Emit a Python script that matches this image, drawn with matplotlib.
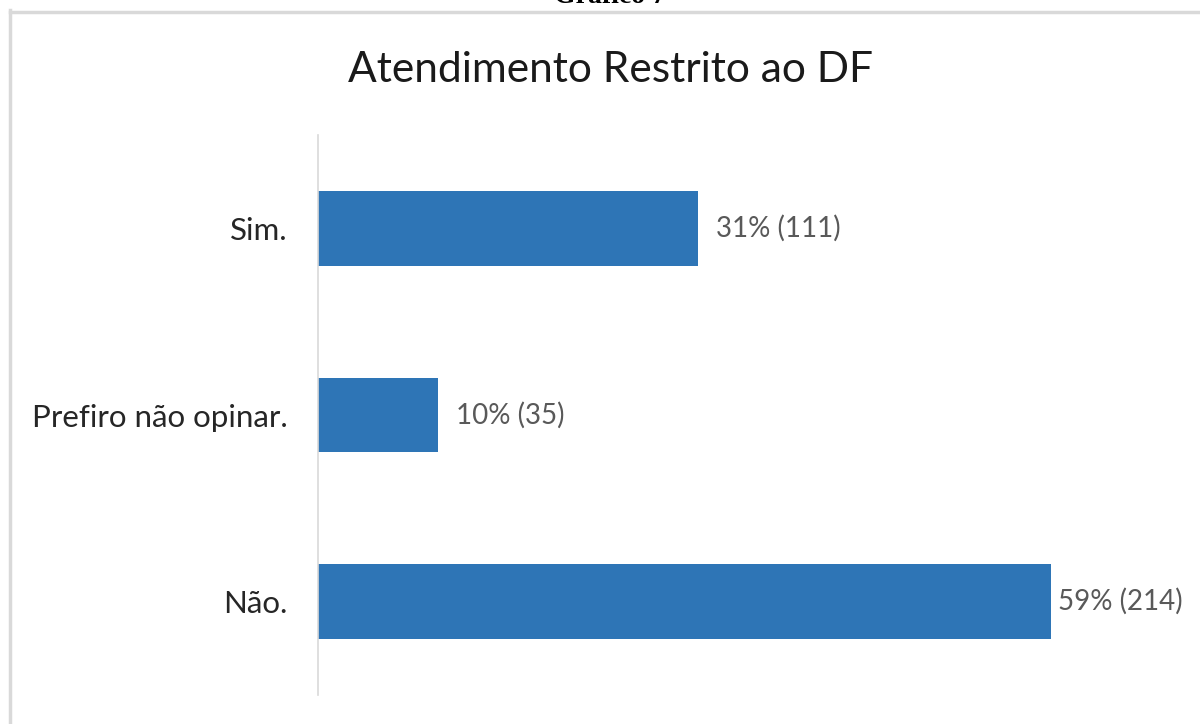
import matplotlib.pyplot as plt
from matplotlib.lines import Line2D

categorias = ['Sim.', 'Prefiro não opinar.', 'Não.']
contagens = [111, 35, 214]
percentuais = [31, 10, 59]

plt.rcParams['font.family'] = ['Lato', 'DejaVu Sans']

fig = plt.figure(figsize=(12, 7.24), dpi=100)
W, H = 1200, 724

# moldura cinza do grafico (so topo e lado esquerdo aparecem)
fig.add_artist(Line2D([9.5 / W, 9.5 / W], [0, 1 - 10 / H], color='#d9d9d9', lw=2.5))
fig.add_artist(Line2D([9.5 / W, 1], [1 - 11.5 / H, 1 - 11.5 / H], color='#d9d9d9', lw=2.5))

# legenda cortada no topo
fig.text(0.508, 1 - 3 / H, 'Gráfico 7', family='Liberation Serif', weight='bold',
         fontsize=20, ha='center', va='baseline', color='black')

ax = fig.add_axes([318 / W, 1 - 695 / H, (1174 - 318) / W, 560 / H])
pos = list(range(len(categorias)))
ax.barh(pos, contagens, height=0.40, color='#2e75b6')
ax.set_xlim(0, 250)
ax.set_ylim(2.5, -0.5)
ax.set_yticks(pos)
ax.set_yticklabels(categorias, fontsize=22.5, color='#262626')
ax.tick_params(axis='y', length=0, pad=22)
ax.set_xticks([])
for s in ['top', 'right', 'bottom']:
    ax.spines[s].set_visible(False)
ax.spines['left'].set_color('#d9d9d9')
ax.spines['left'].set_linewidth(1.2)

for p, c, pc in zip(pos, contagens, percentuais):
    dx = 13 if c < 200 else 5  # rotulo do maior valor encosta na borda
    ax.annotate(f'{pc}% ({c})', (c, p), xytext=(dx, 0), textcoords='offset points',
                va='center', ha='left', fontsize=20, color='#595959')

fig.text(610 / W, 1 - 70 / H, 'Atendimento Restrito ao DF', fontsize=30.6,
         ha='center', va='center', color='#1a1a1a')

fig.savefig('out.png', dpi=100)
